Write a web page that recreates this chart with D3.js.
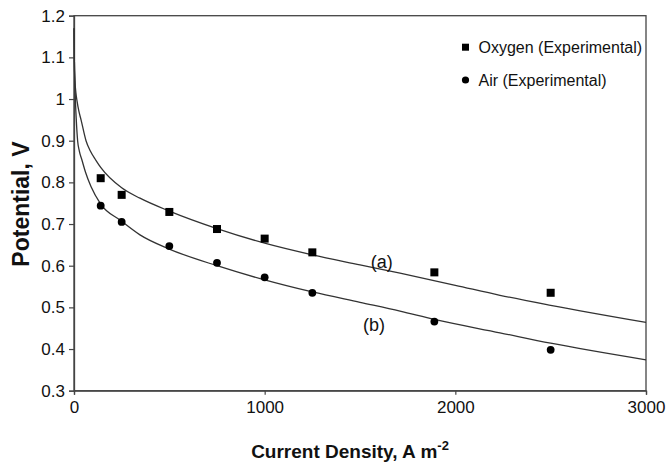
<!DOCTYPE html>
<html>
<head>
<meta charset="utf-8">
<script src="https://cdn.jsdelivr.net/npm/d3@7"></script>
<style>
  body { margin: 0; background: #fff; }
  text { font-family: "Liberation Sans", Arial, sans-serif; fill: #111; }
</style>
</head>
<body>
<div id="chart"></div>
<script>
// experimental points
var current = [140, 250, 500, 750, 1000, 1250, 1890, 2500];
var oxygenV = [0.810, 0.770, 0.729, 0.688, 0.665, 0.632, 0.584, 0.535];
var airV = [0.744, 0.705, 0.647, 0.607, 0.572, 0.535, 0.466, 0.398];

// model curves
var curveA = [[0.3, 1.17], [2, 1.09], [5, 1.045], [10, 1.015], [16, 0.995], [25, 0.972], [37, 0.95],
    [63, 0.9], [85, 0.876], [115, 0.853], [140, 0.836], [250, 0.787], [346, 0.762], [500, 0.731],
    [750, 0.689], [1000, 0.654], [1250, 0.626], [1500, 0.602], [1710, 0.582], [2000, 0.553],
    [2234, 0.529], [2500, 0.505], [3000, 0.464]];
var curveB = [[0.3, 1.17], [2, 1.09], [5, 1.035], [8, 0.99], [12, 0.95], [19, 0.9], [28, 0.875],
    [42, 0.853], [60, 0.825], [89, 0.79], [140, 0.748], [246, 0.708], [346, 0.674], [500, 0.640],
    [750, 0.600], [1000, 0.566], [1250, 0.537], [1500, 0.512], [1710, 0.491], [1890, 0.471],
    [2234, 0.439], [2500, 0.414], [3000, 0.374]];

var xTicks = [0, 1000, 2000, 3000];
var yTicks = [0.3, 0.4, 0.5, 0.6, 0.7, 0.8, 0.9, 1, 1.1, 1.2];

var W = 668, H = 462;
var margin = {top: 15.7, right: 22, bottom: 71.3, left: 74};
var w = W - margin.left - margin.right, h = H - margin.top - margin.bottom;

var svg = d3.select("#chart").append("svg").attr("width", W).attr("height", H);
var g = svg.append("g").attr("transform", "translate(" + margin.left + "," + margin.top + ")");

var x = d3.scaleLinear().domain([0, 3000]).range([0, w]);
var y = d3.scaleLinear().domain([0.3, 1.2]).range([h, 0]);

// frame
g.append("rect").attr("width", w).attr("height", h)
    .attr("fill", "none").attr("stroke", "#444").attr("stroke-width", 1.3);

var xAxis = g.append("g").attr("transform", "translate(0," + h + ")")
    .call(d3.axisBottom(x).tickValues(xTicks).tickSize(4).tickPadding(6).tickFormat(d3.format("d")));
var yAxis = g.append("g")
    .call(d3.axisLeft(y).tickValues(yTicks).tickSize(5).tickPadding(4)
        .tickFormat(function (d) { return String(+d.toFixed(1)); }));

[xAxis, yAxis].forEach(function (a) {
    a.select(".domain").attr("stroke", "#444").attr("stroke-width", 1.3);
    a.selectAll(".tick line").attr("stroke", "#444").attr("stroke-width", 1.2);
    a.selectAll(".tick text").attr("font-size", 17).attr("fill", "#111")
        .style("font-family", "'Liberation Sans', Arial, sans-serif");
});

var line = d3.line()
    .x(function (d) { return x(d[0]); })
    .y(function (d) { return y(d[1]); })
    .curve(d3.curveMonotoneX);

[curveA, curveB].forEach(function (c) {
    g.append("path").datum(c).attr("d", line)
        .attr("fill", "none").attr("stroke", "#333").attr("stroke-width", 1.3);
});

g.selectAll(".sq").data(current).enter().append("rect")
    .attr("x", function (d) { return x(d) - 4; })
    .attr("y", function (d, i) { return y(oxygenV[i]) - 4; })
    .attr("width", 8).attr("height", 8).attr("fill", "#000");

g.selectAll(".ci").data(current).enter().append("circle")
    .attr("cx", function (d) { return x(d); })
    .attr("cy", function (d, i) { return y(airV[i]); })
    .attr("r", 3.9).attr("fill", "#000");

// curve labels
g.append("text").attr("x", 381.7 - margin.left).attr("y", 268 - margin.top)
    .attr("text-anchor", "middle").attr("font-size", 18).text("(a)");
g.append("text").attr("x", 374 - margin.left).attr("y", 331.5 - margin.top)
    .attr("text-anchor", "middle").attr("font-size", 18).text("(b)");

// legend
svg.append("rect").attr("x", 462).attr("y", 43.7).attr("width", 7).attr("height", 7).attr("fill", "#000");
svg.append("text").attr("x", 478.5).attr("y", 52.5).attr("font-size", 16).text("Oxygen (Experimental)");
svg.append("circle").attr("cx", 465.5).attr("cy", 80).attr("r", 3.6).attr("fill", "#000");
svg.append("text").attr("x", 478.5).attr("y", 85.5).attr("font-size", 16).text("Air (Experimental)");

// axis titles
svg.append("text").attr("x", 350).attr("y", 458).attr("text-anchor", "middle")
    .attr("font-size", 19).attr("font-weight", "bold")
    .html('Current Density, A m<tspan dy="-8" font-size="13">-2</tspan>');
svg.append("text").attr("transform", "translate(29,204) rotate(-90)")
    .attr("text-anchor", "middle").attr("font-size", 23).attr("font-weight", "bold")
    .text("Potential, V");
</script>
</body>
</html>
